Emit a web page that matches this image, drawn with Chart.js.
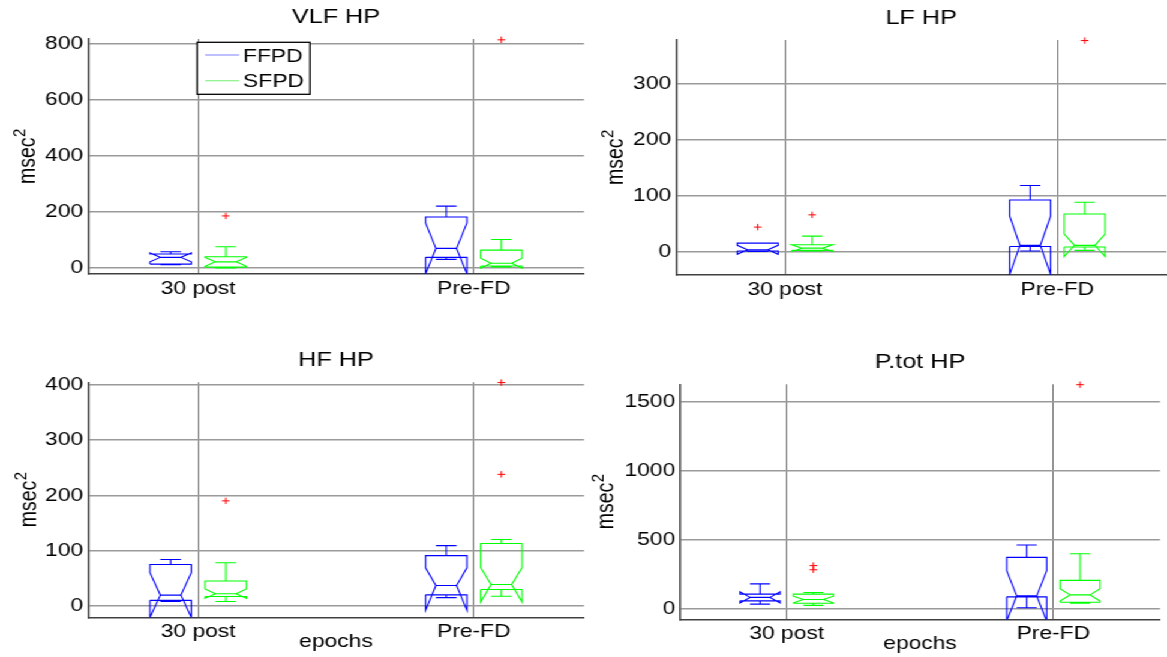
<!DOCTYPE html>
<html>
<head>
<meta charset="utf-8">
<title>HP spectral power by epoch</title>
<script src="https://cdn.jsdelivr.net/npm/chart.js@4.4.1/dist/chart.umd.min.js"></script>
<style>
  html, body { margin: 0; padding: 0; background: #fff; }
  body { width: 1167px; height: 657px; overflow: hidden; position: relative; }
  /* the figure is laid out narrow and stretched sideways to its full width */
  #figure { position: absolute; left: 0; top: 0; width: 973px; height: 657px; transform: scaleX(1.2); transform-origin: 0 0; }
  #figure canvas { position: absolute; }
</style>
</head>
<body>
<div id="figure">
  <canvas id="vlf"></canvas>
  <canvas id="lf"></canvas>
  <canvas id="hf"></canvas>
  <canvas id="ptot"></canvas>
</div>
<script>
const categories = ['30 post', 'Pre-FD'];
const seriesNames = ['FFPD', 'SFPD'];
const seriesColors = ['#0000ff', '#00ff00'];
const legendColors = ['rgba(60, 60, 255, 0.55)', 'rgba(40, 230, 40, 0.55)'];

// box stats per epoch: [lower whisker, q1, median, q3, upper whisker]
// notches per epoch: [low end, high end]

// VLF HP
const vlfFfpd = [[12, 14, 38, 50, 58], [31, 38, 70, 182, 221]];
const vlfSfpd = [[0, 3, 22, 40, 76], [4, 7, 17, 64, 102]];
const vlfNotchFfpd = [[22, 54], [-21, 161]];
const vlfNotchSfpd = [[6, 38], [-1, 35]];
const vlfOutFfpd = [[], []];
const vlfOutSfpd = [[186], [815]];
const vlfTicks = [0, 200, 400, 600, 800];
const vlfRange = [-21.4, 818];

// LF HP
const lfFfpd = [[1, 2, 4, 16, 16], [2, 10, 12, 93, 119]];
const lfSfpd = [[2, 3, 7, 13, 28.5], [3, 9, 12, 68, 89]];
const lfNotchFfpd = [[-4, 12], [-40, 64]];
const lfNotchSfpd = [[1, 13], [-8, 32]];
const lfOutFfpd = [[44.6], []];
const lfOutSfpd = [[66.5], [378]];
const lfTicks = [0, 100, 200, 300];
const lfRange = [-41, 379];

// HF HP
const hfFfpd = [[8, 10, 19.5, 75, 84], [15, 20, 37, 91, 109]];
const hfSfpd = [[8, 17, 22, 45, 78], [17.5, 29.6, 38.7, 113, 120]];
const hfNotchFfpd = [[-21, 60], [-8, 69]];
const hfNotchSfpd = [[13.5, 30.5], [7, 69.4]];
const hfOutFfpd = [[], []];
const hfOutSfpd = [[190], [238, 404]];
const hfTicks = [0, 100, 200, 300, 400];
const hfRange = [-21, 404.5];

// P.tot HP
const ptotFfpd = [[31, 55, 80, 104, 178], [5, 84, 91, 370, 459]];
const ptotSfpd = [[22, 38, 65, 104, 116], [38, 45, 98, 203, 396]];
const ptotNotchFfpd = [[40, 120], [-91, 273]];
const ptotNotchSfpd = [[41, 89], [53, 143]];
const ptotOutFfpd = [[], []];
const ptotOutSfpd = [[310, 280], [1620]];
const ptotTicks = [0, 500, 1000, 1500];
const ptotRange = [-80, 1623];

const X_RANGE = [0.6, 2.4];
const GROUP_SHIFT = [-0.1, 0.1];
const BOX_HALF = 0.075;
const CAP_HALF = 0.0375;

const panels = [
  { id: 'vlf', title: 'VLF HP', stats: [vlfFfpd, vlfSfpd], notches: [vlfNotchFfpd, vlfNotchSfpd],
    outliers: [vlfOutFfpd, vlfOutSfpd], ticks: vlfTicks, range: vlfRange, legend: true, xTitle: false },
  { id: 'lf', title: 'LF HP', stats: [lfFfpd, lfSfpd], notches: [lfNotchFfpd, lfNotchSfpd],
    outliers: [lfOutFfpd, lfOutSfpd], ticks: lfTicks, range: lfRange, legend: false, xTitle: false },
  { id: 'hf', title: 'HF HP', stats: [hfFfpd, hfSfpd], notches: [hfNotchFfpd, hfNotchSfpd],
    outliers: [hfOutFfpd, hfOutSfpd], ticks: hfTicks, range: hfRange, legend: false, xTitle: true },
  { id: 'ptot', title: 'P.tot HP', stats: [ptotFfpd, ptotSfpd], notches: [ptotNotchFfpd, ptotNotchSfpd],
    outliers: [ptotOutFfpd, ptotOutSfpd], ticks: ptotTicks, range: ptotRange, legend: false, xTitle: true },
];

// canvas boxes and plot margins, in unstretched pixels
const frames = [
  { left: 0,   top: 0,   width: 492, height: 328, padTop: 39,   padRight: 5.3, yWidth: 73.3, xHeight: 54,   yLabelX: 28.7, xTitlePad: 0 },
  { left: 492, top: 0,   width: 481, height: 328, padTop: 40,   padRight: 1,   yWidth: 71.3, xHeight: 53,   yLabelX: 27.2, xTitlePad: 0 },
  { left: 0,   top: 328, width: 492, height: 329, padTop: 54.3, padRight: 5.3, yWidth: 73.3, xHeight: 39.5, yLabelX: 29.5, xTitlePad: 4.2 },
  { left: 492, top: 328, width: 481, height: 329, padTop: 56.3, padRight: 6.3, yWidth: 74.7, xHeight: 37.5, yLabelX: 19.4, xTitlePad: 2.2 },
];

const FONT = '"Liberation Sans", Arial, sans-serif';
Chart.defaults.font.family = FONT;
Chart.defaults.font.size = 19;
Chart.defaults.color = '#000';

// notched box outline, median, whiskers and caps as one broken line
function boxPoints(s, n, x) {
  const [lo, q1, med, q3, hi] = s;
  const w = BOX_HALF, v = BOX_HALF / 2, c = CAP_HALF;
  const gap = () => ({ x: x, y: null });
  return [
    { x: x - w, y: q1 }, { x: x - w, y: n[0] }, { x: x - v, y: med }, { x: x - w, y: n[1] }, { x: x - w, y: q3 },
    { x: x + w, y: q3 }, { x: x + w, y: n[1] }, { x: x + v, y: med }, { x: x + w, y: n[0] }, { x: x + w, y: q1 },
    { x: x - w, y: q1 }, gap(),
    { x: x - v, y: med }, { x: x + v, y: med }, gap(),
    { x: x, y: q3 }, { x: x, y: hi }, gap(),
    { x: x - c, y: hi }, { x: x + c, y: hi }, gap(),
    { x: x, y: q1 }, { x: x, y: lo }, gap(),
    { x: x - c, y: lo }, { x: x + c, y: lo }, gap()
  ];
}

// panel title, rotated msec^2 label and the legend box
const panelDecor = {
  id: 'panelDecor',
  afterDraw(chart, args, opts) {
    const { ctx, chartArea: a } = chart;
    ctx.save();
    ctx.fillStyle = '#000';
    ctx.textBaseline = 'middle';
    ctx.textAlign = 'center';
    ctx.font = '21px ' + FONT;
    ctx.fillText(opts.title, (a.left + a.right) / 2, a.top - 22);

    // y label with a raised 2
    ctx.save();
    ctx.translate(opts.yLabelX, (a.top + a.bottom) / 2);
    ctx.rotate(-Math.PI / 2);
    ctx.textBaseline = 'alphabetic';
    ctx.textAlign = 'left';
    ctx.font = '19.5px ' + FONT;
    const wMain = ctx.measureText('msec').width;
    ctx.font = '15px ' + FONT;
    const wSup = ctx.measureText('2').width;
    const u0 = -(wMain + wSup) / 2;
    ctx.font = '19.5px ' + FONT;
    ctx.fillText('msec', u0, 0);
    ctx.font = '15px ' + FONT;
    ctx.fillText('2', u0 + wMain + 0.5, -8);
    ctx.restore();

    if (opts.legend) {
      const lx = a.left + 91, ly = a.top + 3.3, lw = 94, lh = 52;
      ctx.fillStyle = '#fff';
      ctx.fillRect(lx, ly, lw, lh);
      ctx.strokeStyle = '#000';
      ctx.lineWidth = 1.3;
      ctx.strokeRect(lx, ly, lw, lh);
      ctx.font = '19px ' + FONT;
      ctx.textAlign = 'left';
      seriesNames.forEach((name, i) => {
        const y = ly + 12.7 + i * 25.7;
        ctx.strokeStyle = legendColors[i];
        ctx.lineWidth = 1.2;
        ctx.beginPath();
        ctx.moveTo(lx + 6.7, y);
        ctx.lineTo(lx + 35, y);
        ctx.stroke();
        ctx.fillStyle = '#000';
        ctx.fillText(name, lx + 38.3, y + 1.5);
      });
    }
    ctx.restore();
  }
};

panels.forEach((p, k) => {
  const f = frames[k];
  const canvas = document.getElementById(p.id);
  canvas.width = f.width;
  canvas.height = f.height;
  canvas.style.left = f.left + 'px';
  canvas.style.top = f.top + 'px';

  const datasets = [];
  seriesNames.forEach((name, s) => {
    const pts = [];
    categories.forEach((cat, i) => {
      pts.push(...boxPoints(p.stats[s][i], p.notches[s][i], i + 1 + GROUP_SHIFT[s]));
    });
    datasets.push({
      label: name, data: pts, showLine: true, spanGaps: false,
      borderColor: seriesColors[s], borderWidth: 1.1, pointRadius: 0
    });
  });
  seriesNames.forEach((name, s) => {
    const pts = [];
    categories.forEach((cat, i) => {
      p.outliers[s][i].forEach(v => pts.push({ x: i + 1 + GROUP_SHIFT[s], y: v }));
    });
    datasets.push({
      label: name + ' outliers', data: pts, showLine: false, clip: false,
      pointStyle: 'cross', pointRadius: 3.2, borderColor: '#ff0000', borderWidth: 1
    });
  });

  new Chart(canvas, {
    type: 'scatter',
    data: { datasets: datasets },
    plugins: [panelDecor],
    options: {
      responsive: false,
      animation: false,
      devicePixelRatio: 1,
      layout: { autoPadding: false, padding: { top: f.padTop, right: f.padRight, left: 0, bottom: 0 } },
      plugins: {
        legend: { display: false },
        tooltip: { enabled: false },
        title: { display: false },
        panelDecor: { title: p.title, legend: p.legend, yLabelX: f.yLabelX }
      },
      scales: {
        x: {
          type: 'linear',
          min: X_RANGE[0],
          max: X_RANGE[1],
          afterBuildTicks: sc => { sc.ticks = categories.map((c, i) => ({ value: i + 1 })); },
          afterFit: sc => { sc.height = f.xHeight; sc.paddingLeft = 0; sc.paddingRight = 0; },
          ticks: { callback: v => categories[v - 1], padding: 3, maxRotation: 0, autoSkip: false },
          grid: { color: '#707070', lineWidth: 1, drawTicks: false },
          border: { color: '#404040', width: 1.5 },
          title: { display: p.xTitle, text: 'epochs', padding: { top: 0, bottom: f.xTitlePad } }
        },
        y: {
          min: p.range[0],
          max: p.range[1],
          afterBuildTicks: sc => { sc.ticks = p.ticks.map(v => ({ value: v })); },
          afterFit: sc => { sc.width = f.yWidth; sc.paddingTop = 0; sc.paddingBottom = 0; },
          ticks: { padding: 4, callback: v => String(v) },
          grid: { color: '#9a9a9a', lineWidth: 1.5, drawTicks: false },
          border: { color: '#404040', width: 1.5 }
        }
      }
    }
  });
});
</script>
</body>
</html>
